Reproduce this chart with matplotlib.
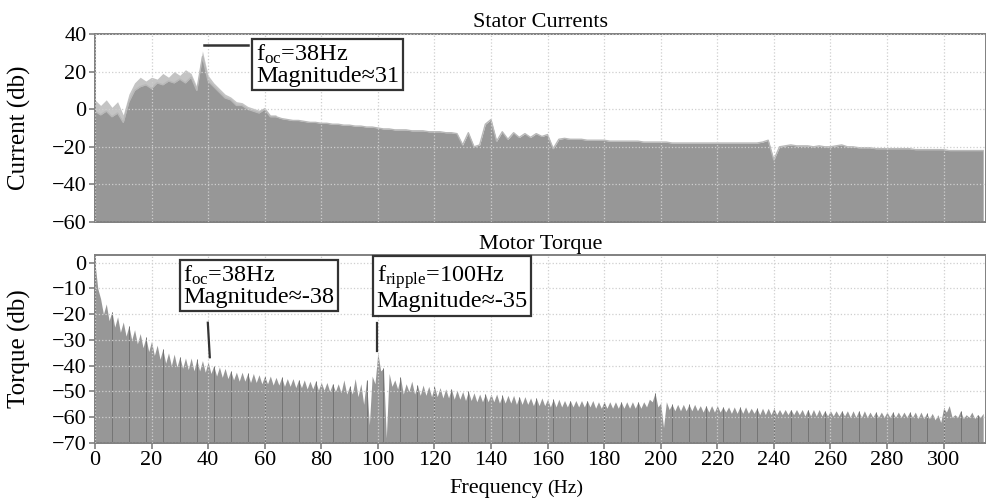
import numpy as np
import matplotlib.pyplot as plt

plt.rcParams['font.family'] = ['Liberation Serif', 'DejaVu Serif']
plt.rcParams['mathtext.fontset'] = 'custom'
plt.rcParams['mathtext.rm'] = 'Liberation Serif'
plt.rcParams['mathtext.it'] = 'Liberation Serif:italic'

# ---- Stator current spectrum (dB), sampled every 2 Hz from 0 to 314 Hz ----
cur_freq = np.arange(0, 316, 2)
cur_db = [
    -1, -3, -1, -4, -2, -7, 4, 10, 12, 13,                              # 0-18
    11, 14, 13, 15, 14, 16, 14, 17, 10, 28,                             # 20-38
    15, 12, 9, 6, 5, 2, 2, 0, -1, -2,                                   # 40-58
    0, -4, -4, -5, -5.5, -6, -6, -6.5, -7, -7,                          # 60-78
    -7.5, -7.5, -8, -8, -8.5, -8.5, -9, -9, -9.5, -9.5,                 # 80-98
    -10, -10.5, -10.5, -11, -11, -11, -11.5, -11.5, -11.5, -12,         # 100-118
    -12, -12, -12.5, -12.5, -13, -19, -12.5, -20, -19, -8,              # 120-138
    -5.5, -17, -12, -16, -12.5, -15, -13, -15, -13, -14.5,              # 140-158
    -13.5, -21, -16, -15.5, -16, -16, -16, -16.5, -16.5, -16.5,         # 160-178
    -16.5, -17, -17, -17, -17, -17, -17, -17.5, -17.5, -17.5,           # 180-198
    -17.5, -17.5, -18, -18, -18, -18, -18, -18, -18, -18,               # 200-218
    -18, -18, -18, -18, -18, -18, -18, -18, -17.5, -16.5,               # 220-238
    -27, -20, -19.5, -19, -19.5, -19.5, -19.5, -20, -19.5, -20,         # 240-258
    -20, -19.5, -19, -20, -20, -20.5, -20.5, -20.5, -21, -21,           # 260-278
    -21, -21, -21, -21, -21, -21.5, -21.5, -21.5, -21.5, -21.5,         # 280-298
    -21.5, -22, -22, -22, -22, -22, -22, -22,                           # 300-314
]
# lighter second phase, visible only at low frequency
cur_light_freq = np.arange(0, 66, 2)
cur_light_db = [
    5, 2, 5, 1, 4, -3, 8, 14, 17, 15,
    17, 16, 19, 17, 20, 18, 21, 19, 12, 31,
    18, 14, 11, 8, 6.5, 4, 3.5, 1.5, 0.5, -0.5,
    1, -3, -3,
]

# ---- Motor torque spectrum (dB): spike tops at even Hz, valleys at odd Hz ----
tq_peak_freq = np.arange(0, 316, 2)
tq_peak_db = [
    0, -14, -16, -19, -21, -23, -24.5, -26, -27.5, -29,                 # 0-18
    -30.5, -32, -33.5, -35, -35.5, -36.5, -37, -37, -37.5, -38,         # 20-38
    -38.5, -40, -40.5, -41, -42, -42.5, -42.5, -43, -43, -43.5,         # 40-58
    -44, -44, -44.5, -44.5, -45, -45, -45.5, -45.5, -46, -46,           # 60-78
    -46.5, -46.5, -47, -47, -45.5, -48, -45, -47, -45.5, -44,           # 80-98
    -35, -41, -43, -45.5, -44.5, -47, -46, -47.5, -47.5, -48,           # 100-118
    -48, -48.5, -49, -49, -49.5, -50, -50, -50.5, -51, -51,             # 120-138
    -51, -51, -51.5, -51.5, -51.5, -52, -52, -52.5, -52.5, -52.5,       # 140-158
    -53, -53, -53, -53.5, -53.5, -53.5, -53.5, -53.5, -53.5, -54,       # 160-178
    -54, -54, -54, -54, -54, -54, -54, -54, -53, -50.5,                 # 180-198
    -54.5, -54, -55, -55, -55, -55, -55, -55.5, -55.5, -55.5,           # 200-218
    -55.5, -56, -56, -56, -56, -56, -56.5, -56.5, -56.5, -56.5,         # 220-238
    -56.5, -57, -57, -57, -57, -57, -57, -57, -57, -57.5,               # 240-258
    -57.5, -57.5, -57.5, -57.5, -57.5, -57.5, -57.5, -58, -58, -58,     # 260-278
    -58, -58, -58, -58, -58, -58, -58, -58.5, -58.5, -59,               # 280-298
    -56.5, -55.5, -59, -57.5, -59, -58, -59, -58.5,                     # 300-314
]
tq_valley_freq = np.arange(1, 315, 2)
tq_valley_db = [
    -10, -20, -22.5, -25, -27, -28.5, -30, -31.5, -33, -34.5,           # 1-19
    -36, -37.5, -39, -40, -40.5, -41, -41.5, -42, -42, -42.5,           # 21-39
    -43, -44, -44.5, -45, -45.5, -46, -46, -46.5, -46.5, -47,           # 41-59
    -47, -47.5, -47.5, -48, -48, -48.5, -48.5, -49, -49, -49.5,         # 61-79
    -49.5, -50, -50, -50.5, -51, -51, -52, -55, -63, -47,               # 81-99
    -42, -68, -48, -49, -51, -50, -51, -51.5, -51.5, -52,               # 101-119
    -52, -52.5, -52.5, -53, -53, -53.5, -53.5, -54, -54, -54,           # 121-139
    -54, -54.5, -54.5, -54.5, -55, -55, -55, -55.5, -55.5, -55.5,       # 141-159
    -56, -56, -56, -56, -56, -56, -56, -56, -56.5, -56.5,               # 161-179
    -56.5, -56.5, -56.5, -56.5, -56.5, -56.5, -56.5, -56, -54, -56,     # 181-199
    -64, -57, -57.5, -57.5, -57.5, -57.5, -57.5, -58, -58, -58,         # 201-219
    -58, -58, -58.5, -58.5, -58.5, -58.5, -58.5, -59, -59, -59,         # 221-239
    -59, -59, -59, -59, -59, -59.5, -59.5, -59.5, -59.5, -59.5,         # 241-259
    -59.5, -59.5, -59.5, -60, -60, -60, -60, -60, -60, -60,             # 261-279
    -60, -60, -60, -60, -60, -60.5, -60.5, -60.5, -61, -62,             # 281-299
    -58, -60, -60, -60.5, -60, -60.5, -60,                              # 301-313
]

# merge spikes and valleys into one trace
tq_freq = np.concatenate([tq_peak_freq, tq_valley_freq])
tq_db = np.concatenate([tq_peak_db, tq_valley_db])
order = np.argsort(tq_freq)
tq_freq, tq_db = tq_freq[order], tq_db[order]

fill_col = '#979797'
spine_col = '#808080'

fig = plt.figure(figsize=(9.86, 5.0), dpi=100)
ax1 = fig.add_axes([0.0963, 0.556, 0.9037, 0.376])
ax2 = fig.add_axes([0.0963, 0.114, 0.9037, 0.376])

for ax in (ax1, ax2):
    ax.set_axisbelow(False)
    ax.grid(True, color='#cfcfcf', linestyle=':', linewidth=0.9)
    for s in ax.spines.values():
        s.set_color(spine_col)
        s.set_linewidth(1.4)
    ax.tick_params(labelsize=16, color=spine_col, length=4, width=1.2, pad=2)

# Stator currents
ax1.fill_between(cur_light_freq, cur_light_db, -60, color='#c4c4c4', lw=0, zorder=1)
ax1.fill_between(cur_freq, cur_db, -60, color=fill_col, lw=0, zorder=1.2)
ax1.plot(cur_freq, cur_db, color='#b8b8b8', lw=1.0, zorder=1.3)
ax1.set_xlim(0, 315)
ax1.set_ylim(-60, 40)
ax1.set_yticks(range(-60, 41, 20))
ax1.set_xticks(range(0, 301, 20))
ax1.tick_params(axis='x', length=0, labelbottom=False)
ax1.set_ylabel('Current (db)', fontsize=18)
ax1.yaxis.set_label_coords(-0.072, 0.5)
ax1.set_title('Stator Currents', fontsize=16, pad=5)
ax1.text(0.1805, 0.955, 'f$_{\\mathrm{oc}}$=38Hz\nMagnitude\u224831', transform=ax1.transAxes,
         ha='left', va='top', fontsize=17.5, linespacing=1.0, zorder=5,
         bbox=dict(boxstyle='square,pad=0.15', fc='white', ec='#333333', lw=1.6))
ax1.plot([38.4, 54], [34, 34], color='#333333', lw=1.8, zorder=5)

# Motor torque
ax2.fill_between(tq_freq, tq_db, -70, color=fill_col, lw=0, zorder=1)
ax2.vlines(tq_peak_freq[::3], -70, np.array(tq_peak_db)[::3], color='#747474', lw=0.7, zorder=1.3)
ax2.set_xlim(0, 315)
ax2.set_ylim(-70, 3)
ax2.set_yticks(range(-70, 1, 10))
ax2.set_xticks(range(0, 301, 20))
ax2.set_ylabel('Torque (db)', fontsize=18)
ax2.yaxis.set_label_coords(-0.072, 0.5)
ax2.set_title('Motor Torque', fontsize=16, pad=4)
ax2.text(0.099, 0.955, 'f$_{\\mathrm{oc}}$=38Hz\nMagnitude\u2248-38', transform=ax2.transAxes,
         ha='left', va='top', fontsize=17.5, linespacing=1.0, zorder=5,
         bbox=dict(boxstyle='square,pad=0.15', fc='white', ec='#333333', lw=1.6))
ax2.plot([39.9, 40.6], [-23.3, -36.7], color='#333333', lw=1.6, zorder=5)
ax2.text(0.316, 0.955, 'f$_{\\mathrm{ripple}}$=100Hz\nMagnitude\u2248-35', transform=ax2.transAxes,
         ha='left', va='top', fontsize=17.5, linespacing=1.0, zorder=5,
         bbox=dict(boxstyle='square,pad=0.15', fc='white', ec='#333333', lw=1.6))
ax2.plot([99.8, 99.8], [-23.3, -34.1], color='#333333', lw=1.6, zorder=5)

fig.text(543 / 986, 0.014, 'Frequency', ha='right', va='baseline', fontsize=16)
fig.text(547 / 986, 0.014, '(Hz)', ha='left', va='baseline', fontsize=14)

plt.savefig('out.png', dpi=100)
